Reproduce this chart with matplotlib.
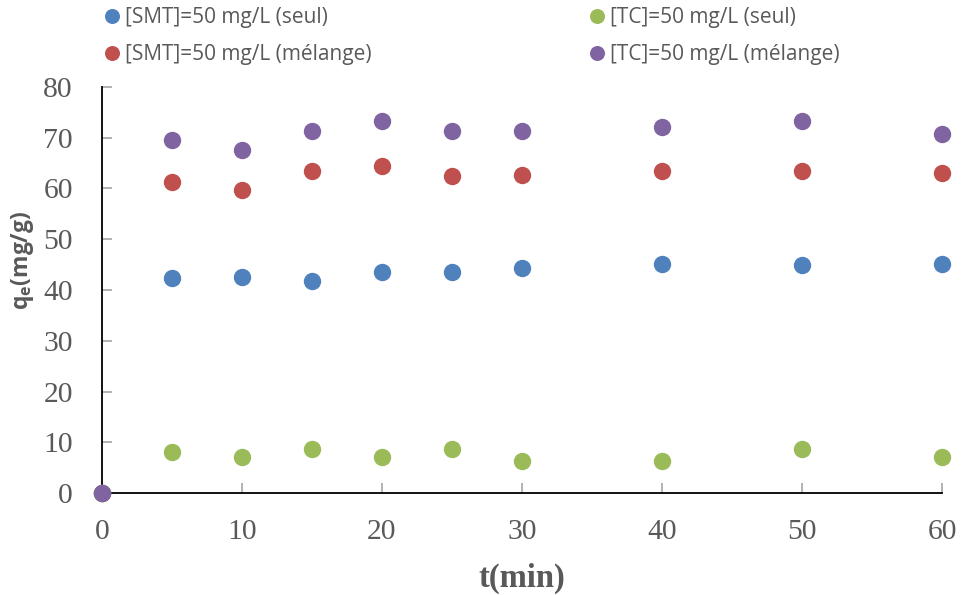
import matplotlib
matplotlib.use('Agg')
import matplotlib.pyplot as plt

#----------- Data -----------#
t = [0, 5, 10, 15, 20, 25, 30, 40, 50, 60]
smt_seul = [0, 42.4, 42.6, 41.8, 43.5, 43.5, 44.3, 45.1, 44.9, 45.1]
smt_mel = [0, 61.3, 59.7, 63.4, 64.4, 62.5, 62.7, 63.4, 63.4, 63.1]
tc_seul = [0, 8.1, 7.1, 8.7, 7.1, 8.7, 6.3, 6.3, 8.7, 7.1]
tc_mel = [0, 69.6, 67.6, 71.3, 73.3, 71.3, 71.3, 72.1, 73.3, 70.7]

labels = ['[SMT]=50 mg/L (seul)', '[SMT]=50 mg/L (mélange)',
          '[TC]=50 mg/L (seul)', '[TC]=50 mg/L (mélange)']
colors = ['#4F81BD', '#C0504D', '#9BBB59', '#8064A2']
xticks = [0, 10, 20, 30, 40, 50, 60]
yticks = [0, 10, 20, 30, 40, 50, 60, 70, 80]

#----------- Plot -----------#
fig = plt.figure(figsize=(9.63, 5.95), dpi=100)
ax = fig.add_axes([0.1059, 0.1714, 0.8723, 0.6824])

for y, c, lab in zip([smt_seul, smt_mel, tc_seul, tc_mel], colors, labels):
    ax.plot(t, y, 'o', color=c, ms=11.5, mec=c, label=lab, clip_on=False, zorder=3)

ax.set_xlim(0, 60)
ax.set_ylim(0, 80)
ax.set_xticks(xticks)
ax.set_yticks(yticks)
for s in ['top', 'right']:
    ax.spines[s].set_visible(False)
for s in ['left', 'bottom']:
    ax.spines[s].set_color('black')
    ax.spines[s].set_linewidth(1.3)
ax.tick_params(direction='in', length=7.5, width=1.2, color='#a6a6a6',
               labelsize=21.3, labelcolor='#595959')
ax.tick_params(axis='x', pad=19)
ax.tick_params(axis='y', pad=21)
for lbl in ax.get_xticklabels() + ax.get_yticklabels():
    lbl.set_family('Liberation Serif')

ax.set_xlabel('t(min)', fontsize=23.5, fontweight='bold', family='Liberation Serif',
              color='#595959')
ax.xaxis.set_label_coords(0.5, -0.172)
ax.set_ylabel('q$_\\mathregular{e}$(mg/g)', fontsize=16.5, fontweight='bold',
              family='Open Sans', color='#595959')
ax.yaxis.set_label_coords(-0.078, 0.574)

leg = fig.legend(loc='upper left', bbox_to_anchor=(0.1055, 0.988), ncol=2,
                 frameon=False, prop={'family': 'Open Sans', 'size': 15},
                 handlelength=1.0, handletextpad=0.125, columnspacing=10.3,
                 labelspacing=0.78, markerscale=0.85, borderpad=0, borderaxespad=0)
for txt in leg.get_texts():
    txt.set_color('#595959')

plt.savefig('out.png', dpi=100)
